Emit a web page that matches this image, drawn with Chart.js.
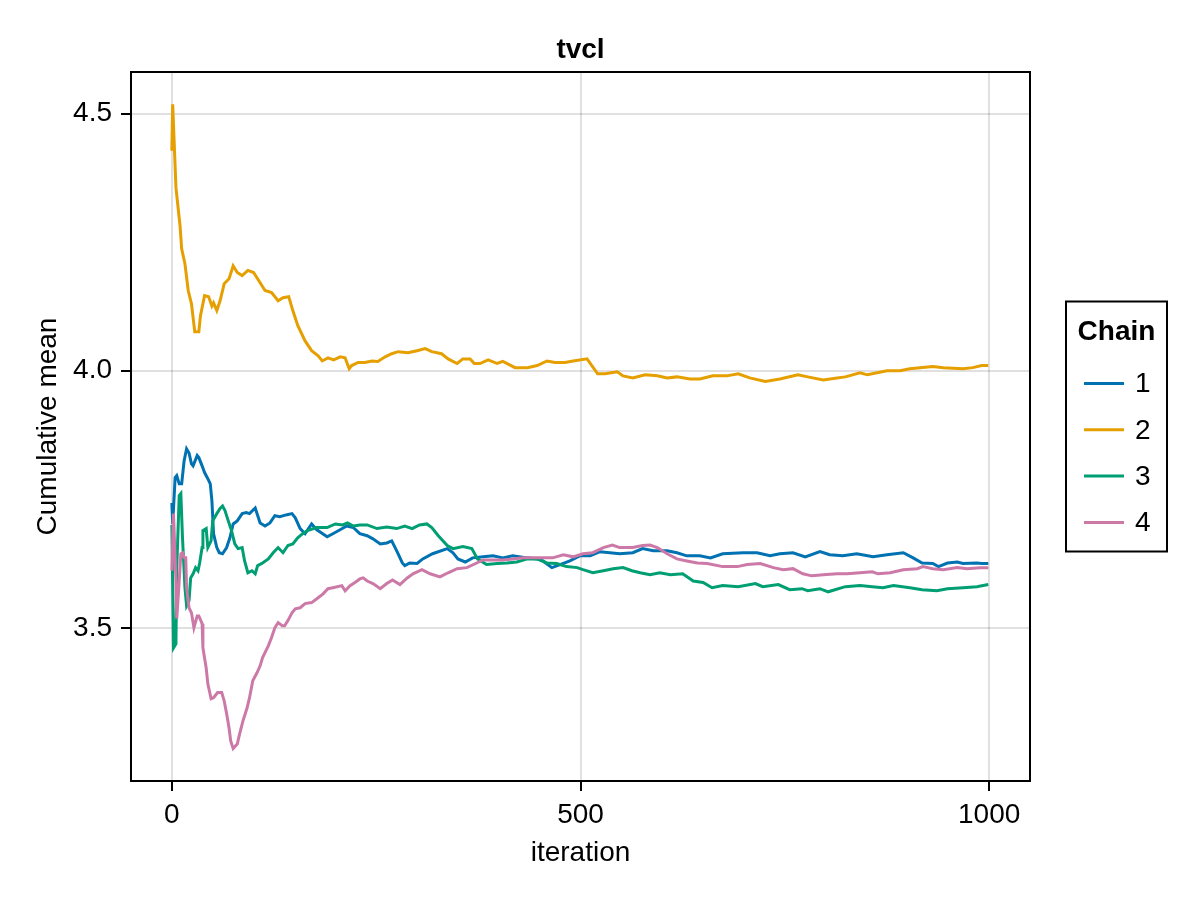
<!DOCTYPE html>
<html>
<head>
<meta charset="utf-8">
<script src="https://cdn.jsdelivr.net/npm/chart.js@4.4.1/dist/chart.umd.min.js"></script>
<style>
  html, body { margin: 0; padding: 0; background: #ffffff; }
  #wrap { width: 1200px; height: 900px; }
</style>
</head>
<body>
<div id="wrap"><canvas id="c" width="1200" height="900"></canvas></div>
<script>
const chartTitle = 'tvcl';
const xAxisTitle = 'iteration';
const yAxisTitle = 'Cumulative mean';
const legendTitle = 'Chain';
const chainLabels = ['1', '2', '3', '4'];
const chainColors = ['#0072B2', '#E69F00', '#009E73', '#CC79A7'];
const xTicks = [0, 500, 1000];
const yTicks = [3.5, 4.0, 4.5];
const xRange = [-50, 1050];
const yRange = [3.202, 4.581];

const chain1Iter = [0,1,4,6,9,12,15,18,21,24,26,31,33,37,40,44,47,49,51,55,58,62,67,71,75,80,86,91,95,102,108,114,120,126,132,141,147,151,157,163,171,177,190,197,214,222,230,239,246,255,263,269,275,282,285,291,300,307,319,337,344,350,359,368,381,393,405,417,435,447,454,465,475,487,499,512,524,536,548,564,576,589,606,618,630,646,659,674,699,716,732,744,760,775,793,805,821,838,858,875,895,907,918,931,938,949,961,968,985,991,999];
const chain1Mean = [3.743,3.702,3.792,3.796,3.780,3.780,3.825,3.848,3.840,3.819,3.815,3.835,3.831,3.815,3.802,3.790,3.780,3.747,3.683,3.656,3.646,3.644,3.656,3.675,3.702,3.708,3.722,3.724,3.722,3.733,3.704,3.698,3.704,3.718,3.716,3.720,3.722,3.714,3.693,3.683,3.702,3.691,3.677,3.683,3.698,3.695,3.683,3.679,3.673,3.663,3.665,3.669,3.650,3.626,3.621,3.626,3.625,3.634,3.644,3.654,3.646,3.634,3.628,3.636,3.638,3.640,3.636,3.640,3.636,3.634,3.630,3.617,3.623,3.630,3.640,3.640,3.648,3.646,3.644,3.646,3.654,3.650,3.650,3.646,3.640,3.640,3.636,3.644,3.646,3.646,3.640,3.644,3.646,3.638,3.648,3.642,3.640,3.644,3.638,3.642,3.646,3.636,3.626,3.625,3.619,3.626,3.628,3.625,3.626,3.625,3.625];

const chain2Iter = [0,1,5,10,12,16,20,24,28,33,35,40,45,49,51,55,59,64,70,75,80,86,93,100,108,114,122,130,136,143,148,154,163,171,179,184,191,198,206,212,217,220,228,236,245,252,261,269,277,289,300,310,318,330,338,349,356,365,370,377,387,398,405,420,435,447,459,469,481,491,508,521,530,545,552,564,579,594,606,618,634,646,662,679,693,707,726,744,766,778,797,814,824,842,851,875,891,903,931,944,968,980,991,999];
const chain2Mean = [4.428,4.518,4.356,4.282,4.237,4.208,4.156,4.130,4.076,4.076,4.107,4.146,4.144,4.126,4.132,4.117,4.136,4.169,4.179,4.204,4.191,4.185,4.195,4.191,4.171,4.156,4.152,4.136,4.142,4.144,4.117,4.088,4.058,4.039,4.029,4.019,4.025,4.021,4.027,4.025,4.004,4.010,4.016,4.016,4.019,4.018,4.027,4.033,4.037,4.035,4.039,4.043,4.037,4.033,4.023,4.014,4.023,4.023,4.014,4.014,4.021,4.014,4.018,4.006,4.006,4.010,4.019,4.016,4.016,4.019,4.023,3.994,3.994,3.998,3.990,3.986,3.992,3.990,3.986,3.988,3.984,3.984,3.990,3.990,3.994,3.986,3.979,3.984,3.992,3.988,3.982,3.986,3.988,3.996,3.992,4.000,4.000,4.004,4.008,4.006,4.004,4.006,4.010,4.010];

const chain3Iter = [0,2,5,6,9,11,13,16,18,21,23,26,29,32,34,37,38,42,44,48,50,55,59,62,65,69,73,77,81,86,89,93,98,102,105,111,118,124,130,136,142,148,154,160,166,177,190,200,209,215,222,230,239,251,263,275,285,294,303,312,318,326,337,344,356,367,374,385,398,410,422,435,447,459,471,483,496,503,515,528,540,552,563,573,585,597,610,625,638,650,661,674,693,714,723,742,756,771,778,793,803,824,842,857,870,883,903,918,936,949,968,985,999];
const chain3Mean = [3.700,3.461,3.469,3.617,3.757,3.761,3.675,3.578,3.543,3.553,3.597,3.605,3.617,3.611,3.626,3.656,3.689,3.693,3.656,3.669,3.708,3.722,3.732,3.737,3.728,3.708,3.689,3.663,3.654,3.656,3.630,3.607,3.611,3.605,3.621,3.626,3.634,3.646,3.656,3.646,3.660,3.663,3.675,3.683,3.689,3.695,3.695,3.702,3.700,3.704,3.698,3.700,3.700,3.693,3.696,3.693,3.698,3.693,3.700,3.702,3.695,3.679,3.660,3.654,3.658,3.654,3.634,3.623,3.625,3.626,3.628,3.634,3.634,3.626,3.625,3.619,3.617,3.613,3.607,3.611,3.615,3.617,3.611,3.607,3.603,3.607,3.603,3.605,3.591,3.588,3.578,3.582,3.580,3.586,3.580,3.584,3.574,3.576,3.572,3.576,3.570,3.580,3.582,3.580,3.578,3.582,3.578,3.574,3.572,3.576,3.578,3.580,3.584];

const chain4Iter = [0,2,5,6,9,11,13,15,17,18,21,24,27,31,33,37,38,42,44,48,51,56,61,64,67,70,72,75,80,83,87,92,95,99,104,108,111,118,122,126,130,135,138,142,147,151,157,163,171,177,185,191,197,208,212,218,224,230,234,239,246,255,263,270,279,288,295,306,316,328,338,349,361,373,381,393,405,417,430,442,454,466,479,491,503,515,528,539,548,564,576,585,594,606,618,630,643,655,674,692,704,720,736,748,760,772,783,797,814,826,842,857,864,879,895,912,919,931,944,961,973,989,999];
const chain4Mean = [3.611,3.722,3.591,3.518,3.591,3.644,3.646,3.636,3.636,3.578,3.539,3.529,3.500,3.523,3.523,3.508,3.461,3.422,3.391,3.362,3.364,3.374,3.374,3.358,3.333,3.305,3.280,3.265,3.274,3.294,3.319,3.344,3.364,3.397,3.412,3.426,3.442,3.465,3.481,3.500,3.510,3.504,3.504,3.514,3.529,3.537,3.539,3.547,3.549,3.556,3.566,3.576,3.578,3.582,3.572,3.582,3.588,3.595,3.597,3.591,3.586,3.576,3.586,3.593,3.584,3.597,3.605,3.613,3.605,3.599,3.607,3.615,3.617,3.626,3.632,3.632,3.632,3.634,3.636,3.636,3.636,3.636,3.642,3.638,3.644,3.646,3.656,3.661,3.656,3.656,3.660,3.661,3.656,3.644,3.634,3.630,3.626,3.625,3.619,3.619,3.623,3.625,3.617,3.613,3.615,3.605,3.601,3.603,3.605,3.605,3.607,3.609,3.605,3.607,3.613,3.615,3.619,3.615,3.613,3.617,3.615,3.617,3.617];

const chainIters = [chain1Iter, chain2Iter, chain3Iter, chain4Iter];
const chainMeans = [chain1Mean, chain2Mean, chain3Mean, chain4Mean];

const FONT = "'Liberation Sans', Arial, Helvetica, sans-serif";
const FS = 28;

function zip(xs, ys) {
  const n = Math.min(xs.length, ys.length);
  const out = [];
  for (let i = 0; i < n; i++) out.push({ x: xs[i], y: ys[i] });
  return out;
}

const datasets = chainLabels.map((lab, i) => ({
  label: lab,
  data: zip(chainIters[i], chainMeans[i]),
  borderColor: chainColors[i],
  backgroundColor: chainColors[i],
  borderWidth: 3,
  pointRadius: 0,
  pointHoverRadius: 0,
  tension: 0,
  fill: false,
  order: chainLabels.length - i
}));

const framePlugin = {
  id: 'frameAndLegend',
  afterDraw(chart) {
    const { ctx, chartArea: a } = chart;
    ctx.save();
    ctx.strokeStyle = '#000';
    ctx.lineWidth = 2;
    ctx.strokeRect(a.left, a.top, a.right - a.left, a.bottom - a.top);

    const lw = 101, lh = 250;
    const lx = a.right + 36;
    const ly = (a.top + a.bottom) / 2 - lh / 2;
    ctx.fillStyle = '#fff';
    ctx.fillRect(lx, ly, lw, lh);
    ctx.strokeRect(lx, ly, lw, lh);
    ctx.fillStyle = '#000';
    ctx.textBaseline = 'middle';
    ctx.textAlign = 'center';
    ctx.font = 'bold ' + FS + 'px ' + FONT;
    ctx.fillText(legendTitle, lx + lw / 2, ly + 31);
    ctx.textAlign = 'left';
    ctx.font = FS + 'px ' + FONT;
    const ds = chart.data.datasets;
    for (let i = 0; i < ds.length; i++) {
      const y = ly + 82 + i * 46.3;
      ctx.strokeStyle = ds[i].borderColor;
      ctx.lineWidth = 3;
      ctx.beginPath();
      ctx.moveTo(lx + 18, y);
      ctx.lineTo(lx + 58, y);
      ctx.stroke();
      ctx.fillStyle = '#000';
      ctx.fillText(ds[i].label, lx + 69, y + 1);
    }
    ctx.restore();
  }
};

new Chart(document.getElementById('c'), {
  type: 'line',
  data: { datasets },
  plugins: [framePlugin],
  options: {
    responsive: false,
    animation: false,
    devicePixelRatio: 1,
    layout: { padding: { left: 0, right: 170, top: 0, bottom: 0 } },
    plugins: {
      legend: { display: false },
      tooltip: { enabled: false },
      title: {
        display: true,
        text: chartTitle,
        fullSize: false,
        color: '#000',
        font: { family: FONT, size: FS, weight: 'bold' },
        padding: { top: 33, bottom: 5.4 }
      }
    },
    scales: {
      x: {
        type: 'linear',
        min: xRange[0],
        max: xRange[1],
        afterBuildTicks: (s) => { s.ticks = xTicks.map(v => ({ value: v })); },
        afterFit: (s) => { s.height = 119; },
        ticks: {
          color: '#000',
          font: { family: FONT, size: FS },
          padding: 7,
          maxRotation: 0,
          callback: (v) => String(v)
        },
        grid: {
          color: 'rgba(0,0,0,0.12)',
          lineWidth: 2,
          tickColor: '#000',
          tickWidth: 2,
          tickLength: 10
        },
        border: { display: false },
        title: {
          display: true,
          text: xAxisTitle,
          color: '#000',
          font: { family: FONT, size: FS },
          padding: { top: 0, bottom: 30 }
        }
      },
      y: {
        type: 'linear',
        min: yRange[0],
        max: yRange[1],
        afterBuildTicks: (s) => { s.ticks = yTicks.map(v => ({ value: v })); },
        afterFit: (s) => { s.width = 131; },
        ticks: {
          color: '#000',
          font: { family: FONT, size: FS },
          padding: 9,
          callback: (v) => Number(v).toFixed(1)
        },
        grid: {
          color: 'rgba(0,0,0,0.12)',
          lineWidth: 2,
          tickColor: '#000',
          tickWidth: 2,
          tickLength: 10
        },
        border: { display: false },
        title: {
          display: true,
          text: yAxisTitle,
          color: '#000',
          font: { family: FONT, size: FS },
          padding: { top: 31, bottom: 0 }
        }
      }
    }
  }
});
</script>
</body>
</html>
